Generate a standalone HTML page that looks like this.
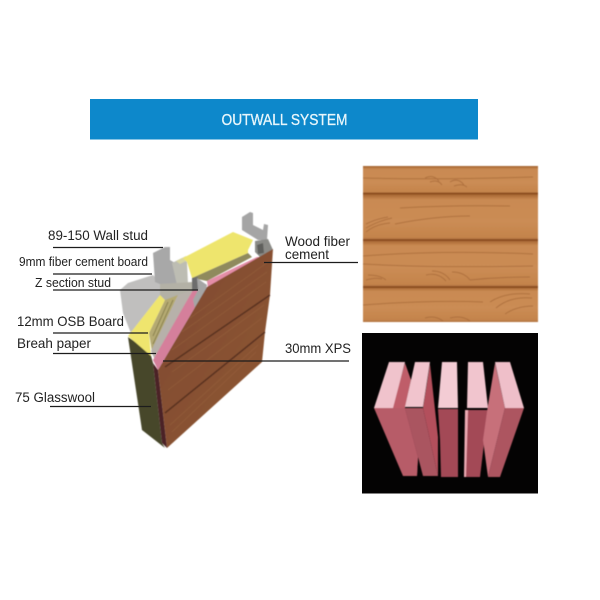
<!DOCTYPE html>
<html><head><meta charset="utf-8"><style>
html,body{margin:0;padding:0;background:#fff;width:600px;height:600px;overflow:hidden}
svg{display:block}
text{font-family:"Liberation Sans",sans-serif;fill:#222}
</style></head><body>
<svg width="600" height="600" viewBox="0 0 600 600" xmlns="http://www.w3.org/2000/svg">
<defs>
<filter id="b" x="-5%" y="-5%" width="110%" height="110%"><feGaussianBlur stdDeviation="0.6"/></filter>
<linearGradient id="plank" x1="0" y1="0" x2="0" y2="1">
<stop offset="0" stop-color="#a3622f"/><stop offset=".12" stop-color="#c98a52"/><stop offset=".6" stop-color="#cb8c54"/><stop offset=".93" stop-color="#c4844c"/><stop offset="1" stop-color="#b27340"/>
</linearGradient>
<linearGradient id="wall" x1="0" y1="0" x2="1" y2="1">
<stop offset="0" stop-color="#7f4a2e"/><stop offset="1" stop-color="#8f5735"/>
</linearGradient>
</defs>
<rect x="90" y="99" width="388" height="40.500" fill="#0d88cb"/>
<text x="284.500" y="125" font-size="16" text-anchor="middle" textLength="126" lengthAdjust="spacingAndGlyphs" style="fill:#e8f6fb;stroke:#e8f6fb;stroke-width:.3">OUTWALL SYSTEM</text>

<!-- wood sample -->
<g filter="url(#b)">
<rect x="363" y="166" width="175" height="156" fill="#c98a52"/>
<rect x="363" y="166" width="175" height="28" fill="url(#plank)"/>
<rect x="363" y="194" width="175" height="46" fill="url(#plank)"/>
<rect x="363" y="240" width="175" height="47" fill="url(#plank)"/>
<rect x="363" y="287" width="175" height="35" fill="url(#plank)"/>
<g fill="none" stroke="#a96b3a" stroke-width="1" opacity=".8">
<path d="M425 178q8-4 14 3M430 182q8-3 12 3M450 182q8-5 14 3M454 186q8-3 13 1"/>
<path d="M366 232q10-8 24-9M366 228q12-7 26-10M366 224q10-5 22-7M395 224q40-8 75-8M400 208q50-3 110-2"/>
<path d="M366 280q10-3 16-1M368 275q12 0 18 5M426 275q12-3 20 6M432 271q12 0 18 9M452 272q12 0 18 8M470 280q30-3 60-3"/>
<path d="M490 302q15-10 40-8M496 308q14-12 36-10M505 314q12-8 28-8M425 318q10-3 18 3M450 318q12-3 20 3M363 305q70-5 120-3"/>
<path d="M363 256q80-6 170-2M363 178q80 2 170-1M363 264q70 4 170 2"/>
</g>
<g fill="none" stroke="#87491f" stroke-width="2" opacity=".85">
<path d="M363 193.500h175M363 240h175M363 287h175"/>
</g>
</g>
<rect x="362" y="333" width="176" height="160.500" fill="#040303"/>

<!-- XPS boards -->
<g filter="url(#b)">
<!-- board 1 -->
<polygon points="392,408 405,363 411,380 405,408 418,457 417,476" fill="#bf5d69"/>
<polygon points="374,408 393,408 405,408 418,457 417,476 403,476" fill="#b75c68"/>
<polygon points="374,408 389,362 405,362 393,408" fill="#f0c3cc"/>
<!-- board 2 -->
<polygon points="423,408 430,364 438,437 438,476" fill="#b3505c"/>
<polygon points="405,408 423,408 438,476 423,476 418,457" fill="#aa5460"/>
<polygon points="405,407 415,362 430,362 423,407" fill="#f1c4cd"/>
<!-- board 3 -->
<polygon points="438,409 458,409 458,477 441,477 440,440" fill="#a34a57"/>
<polygon points="438,408 442,362 457,362 458,408" fill="#f3ccd4"/>
<!-- board 4 -->
<polygon points="467,410 488,410 480,477 464,477" fill="#a34a57"/>
<polygon points="465,410 468,410 466,477 464,477" fill="#ecaab4"/>
<polygon points="467,408 468,362 483,362 488,408" fill="#f1c5ce"/>
<!-- board 5 -->
<polygon points="495,363 505,408 488,477 483,440 488,405" fill="#c76f7a"/>
<polygon points="505,408 524,408 500,477 488,477" fill="#ad5561"/>
<polygon points="495,362 510,362 524,408 505,408" fill="#efbfc9"/>
</g>

<!-- wall diagram -->
<g filter="url(#b)">
<!-- gray sheet -->
<polygon points="120,290 128,283 153,275 163,285 165,298 132,336 123,313" fill="#c0bfbe"/>
<!-- left stud -->
<polygon points="153,253 165,247 170,247 170,260 175,263 177,285 162,285 155,282" fill="#a8a8a8"/>
<polygon points="172,263 182,258 187,262 188,285 177,285" fill="#bdbdb3"/>
<polygon points="176,261 186,256 188,260 180,264" fill="#d8d6a0"/>
<polygon points="160,284 192,282 194,291 178,297 165,301 160,298" fill="#b3b1a6"/>
<!-- olive side -->
<polygon points="128,337 150,352 153,363 162,443 165,448 142,430" fill="#47472a"/>
<!-- yellow front block -->
<polygon points="128,336 160,295 165,300 149,333 151,356" fill="#efe56e"/>
<!-- OSB -->
<polygon points="165,300 178,295 152,352 149,333" fill="#b5aa72"/>
<g fill="none" stroke="#8a8150" stroke-width="1">
<path d="M168 302L153 336M173 300L153 344"/>
</g>
<!-- gray strip -->
<polygon points="178,295 193,290 155,360 151,351" fill="#b7b1aa"/>
<!-- pink -->
<polygon points="193,290 207,287 158,370 153,360" fill="#d57f9b"/>
<polygon points="207,281 257,257 265,257 273,250 208,288" fill="#e48da7"/>
<!-- yellow top -->
<polygon points="183,258 233,232 253,240 248,250 248,253 192,278 187,262" fill="#eee56d"/>
<polygon points="192,278 248,253 252,257 207,281" fill="#8f8a5d"/>
<!-- center stud -->
<polygon points="192,278 198,277 198,290 192,291" fill="#6d6d6d"/>
<polygon points="197,278 207,285 205,293 197,318 193,300 198,290" fill="#a5a5a5"/>
<!-- top stud -->
<polygon points="242,217 250,212 253,213 253,225 263,230 264,224 268,225 267,240 258,240 242,230" fill="#a5a5a5"/>
<polygon points="255,241 268,239 273,250 260,257 255,252" fill="#8b8b87"/>
<polygon points="257,245 263,243 264,253 258,254" fill="#5f5f5c"/>
<!-- wood face -->
<polygon points="273,249 270,295 265,332 262,362 167,448 158,370 207,287" fill="url(#wall)"/>
<polygon points="153,363 158,370 167,448 162,443" fill="#4b2425"/>
<g fill="none" stroke="#5a3120" stroke-width="1.600">
<path d="M270 295L165 367M265 332L165 413"/>
</g>
<g fill="none" stroke="#a06a45" stroke-width=".7" opacity=".5">
<path d="M268 262L190 318M267 272L182 332M266 282L172 350M264 305L172 372M262 318L168 390M258 345L170 425M256 352L172 432"/>
</g>
</g>

<!-- leader lines -->
<g stroke="#1c1c1c" stroke-width="1.300" fill="none">
<path d="M53 247.500H163M53 274H152M53 290H198M53 333H148M53 353.500H156M50 406.500H151M264 262.500H358M163 361H349"/>
</g>

<!-- labels -->
<text x="48" y="240" font-size="13.500" textLength="100" lengthAdjust="spacingAndGlyphs">89-150 Wall stud</text>
<text x="19" y="266" font-size="12.500" textLength="129" lengthAdjust="spacingAndGlyphs">9mm fiber cement board</text>
<text x="35" y="287" font-size="13" textLength="76" lengthAdjust="spacingAndGlyphs">Z section stud</text>
<text x="17" y="326" font-size="14" textLength="107" lengthAdjust="spacingAndGlyphs">12mm OSB Board</text>
<text x="17" y="348" font-size="14" textLength="74" lengthAdjust="spacingAndGlyphs">Breah paper</text>
<text x="15" y="402" font-size="13.500" textLength="80" lengthAdjust="spacingAndGlyphs">75 Glasswool</text>
<text x="285" y="246" font-size="14" textLength="65" lengthAdjust="spacingAndGlyphs">Wood fiber</text>
<text x="285" y="259" font-size="14" textLength="44" lengthAdjust="spacingAndGlyphs">cement</text>
<text x="285" y="353" font-size="14" textLength="66" lengthAdjust="spacingAndGlyphs">30mm XPS</text>
</svg>
</body></html>
